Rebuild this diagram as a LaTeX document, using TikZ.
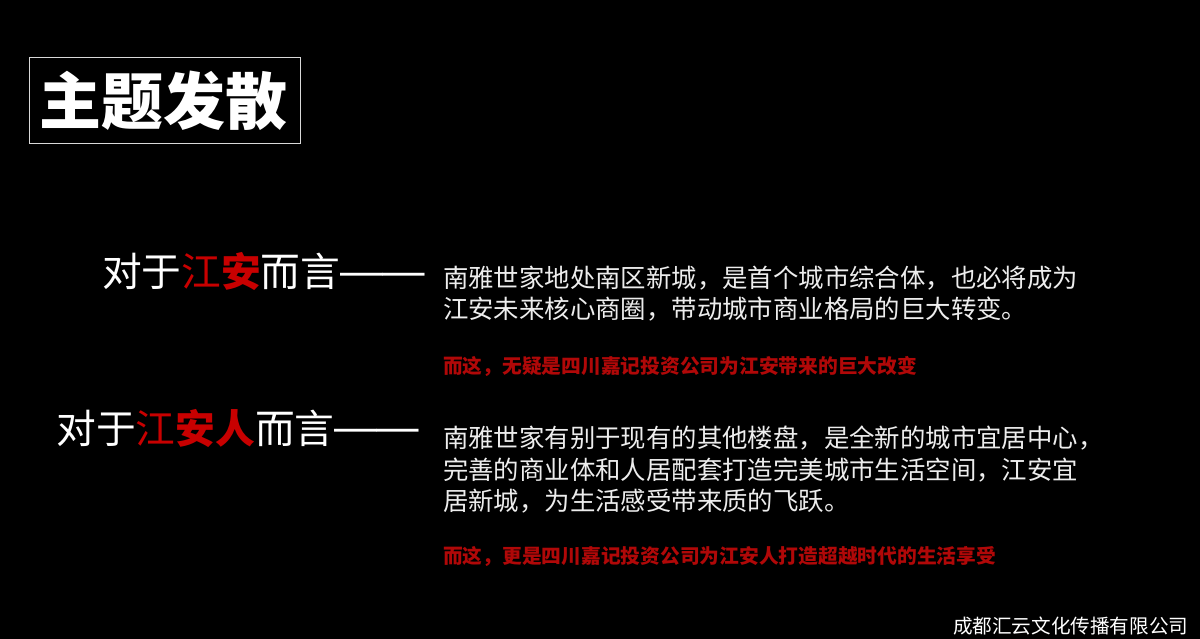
\documentclass[tikz,border=0pt]{standalone}
\usepackage{fontspec}
\newfontfamily\cjk{Noto Sans CJK SC}
\newfontfamily\dashfont{Liberation Sans}
\definecolor{hl}{HTML}{C80000}
\definecolor{hlb}{HTML}{B00808}
\newcommand{\longdash}{{\dashfont\fontsize{42.5}{42.5}\selectfont\raisebox{1.5pt}{——}}}
\tikzset{
  x=1pt,y=-1pt,
  every node/.style={inner sep=0pt,outer sep=0pt,anchor=west,text=white},
  big/.style={font=\cjk\fontsize{39.7}{39.7}\selectfont},
  body/.style={font=\cjk\fontsize{25.4}{25.4}\selectfont,text=white!93!black},
  note/.style={font=\cjk\bfseries\fontsize{19.75}{19.75}\selectfont,text=hlb},
}
\begin{document}
\begin{tikzpicture}
\useasboundingbox[fill=black] (0,0) rectangle (1200,639);
\node[draw=white!85!black,line width=0.8pt,minimum width=271pt,minimum height=86pt] (box) at (29,100.5) {};
\node[font=\cjk\bfseries\fontsize{62}{62}\selectfont] (title) at (39,101) {主题发散};
\node[big] (a) at (102,271.5) {对于{\color{hl}江{\bfseries 安}}而言\longdash};
\node[big] (b) at (56.5,428) {对于{\color{hl}江{\bfseries 安人}}而言\longdash};
\node[body] (t1) at (443,278) {南雅世家地处南区新城，是首个城市综合体，也必将成为};
\node[body] (t2) at (443,309) {江安未来核心商圈，带动城市商业格局的巨大转变。};
\node[note] (n1) at (443,366) {而这，无疑是四川嘉记投资公司为江安带来的巨大改变};
\node[body] (t3) at (443,438) {南雅世家有别于现有的其他楼盘，是全新的城市宜居中心，};
\node[body] (t4) at (443,470) {完善的商业体和人居配套打造完美城市生活空间，江安宜};
\node[body] (t5) at (443,501) {居新城，为生活感受带来质的飞跃。};
\node[note] (n2) at (443,556) {而这，更是四川嘉记投资公司为江安人打造超越时代的生活享受};
\node[font=\cjk\fontsize{19.6}{19.6}\selectfont] (f) at (953,626) {成都汇云文化传播有限公司};
\end{tikzpicture}
\end{document}
